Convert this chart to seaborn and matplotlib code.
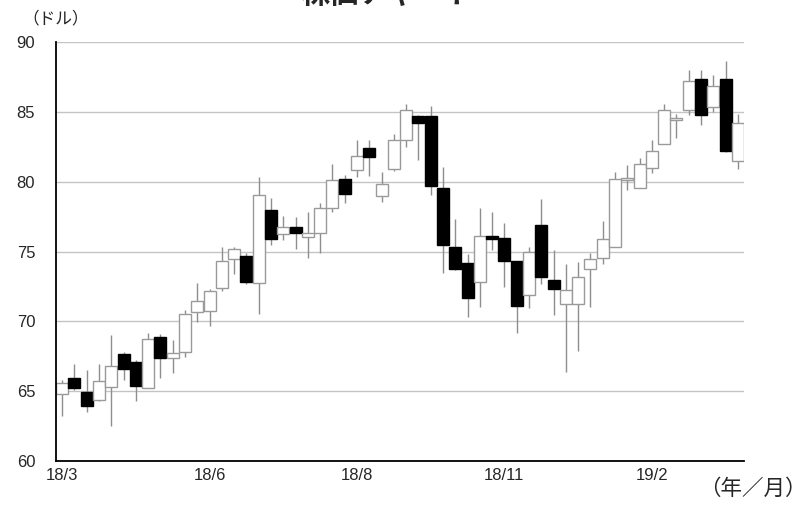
import numpy as np
import pandas as pd
import matplotlib
matplotlib.use("Agg")
import matplotlib.pyplot as plt
import seaborn as sns

# ---- data (weekly OHLC, dollars) ----
open_ = [64.77, 65.91, 64.96, 64.36, 65.27, 67.65, 67.10, 65.24, 68.85, 67.34,
         67.82, 70.68, 70.75, 72.42, 74.45, 74.67, 72.71, 77.96, 76.22, 76.72,
         76.05, 76.29, 78.15, 80.17, 80.87, 82.42, 78.96, 80.94, 83.01, 84.68,
         84.68, 79.58, 75.33, 74.21, 72.83, 76.10, 75.95, 74.31, 71.92, 76.88,
         72.95, 71.21, 71.21, 73.76, 74.57, 75.33, 80.10, 79.58, 81.01, 82.73,
         84.40, 85.16, 87.33, 85.35, 87.33, 81.49]
high = [65.79, 66.94, 66.51, 66.94, 69.01, 67.82, 67.22, 69.20, 69.06, 68.65,
        70.80, 72.71, 72.35, 75.29, 75.30, 74.90, 80.34, 78.84, 77.53, 77.48,
        77.84, 78.48, 81.25, 80.51, 83.01, 82.96, 80.70, 83.44, 85.54, 84.75,
        85.40, 81.06, 77.36, 74.81, 78.15, 77.81, 77.05, 74.35, 75.29, 78.79,
        75.09, 74.09, 74.26, 74.90, 77.19, 80.70, 81.18, 81.72, 82.96, 85.54,
        84.87, 87.97, 87.97, 87.62, 88.62, 84.82]
low = [63.22, 65.08, 63.53, 64.30, 62.53, 65.79, 64.29, 65.20, 65.91, 66.27,
       67.42, 69.97, 69.66, 72.18, 73.40, 72.66, 70.56, 75.45, 75.81, 75.21,
       74.50, 74.86, 77.84, 78.48, 80.34, 80.39, 78.55, 80.77, 82.49, 81.53,
       79.03, 73.47, 73.70, 70.32, 71.04, 75.09, 72.47, 69.13, 70.92, 72.66,
       70.44, 66.39, 67.89, 71.04, 74.14, 75.30, 79.39, 79.55, 80.63, 82.70,
       83.16, 84.75, 84.04, 84.99, 82.13, 80.89]
close = [65.55, 65.20, 63.93, 65.72, 66.82, 66.56, 65.36, 68.77, 67.34, 67.70,
         70.56, 71.47, 72.16, 74.31, 75.21, 72.83, 79.08, 75.88, 76.76, 76.33,
         76.29, 78.15, 80.10, 79.10, 81.82, 81.77, 79.86, 83.01, 85.11, 84.20,
         79.67, 75.45, 73.76, 71.68, 76.14, 75.93, 74.31, 71.09, 74.93, 73.14,
         72.33, 72.23, 73.14, 74.43, 75.86, 80.22, 80.26, 81.30, 82.18, 85.16,
         84.56, 87.19, 84.80, 86.83, 82.20, 84.23]
tick_index = [0, 12, 24, 36, 48]
tick_labels = ["18/3", "18/6", "18/8", "18/11", "19/2"]
y_ticks = [60, 65, 70, 75, 80, 85, 90]
title_text = "株価チャート"
y_unit = "（ドル）"
x_unit = "（年／月）"

sns.set_style("white")
plt.rcParams['font.family'] = ['Liberation Sans', 'Noto Sans CJK JP', 'DejaVu Sans']

df = pd.DataFrame({"week": np.arange(len(open_)), "open": open_, "high": high,
                   "low": low, "close": close})
df["lo"] = df[["open", "close"]].min(axis=1)
df["body"] = (df["close"] - df["open"]).abs()
df["up"] = df["close"] >= df["open"]

W, H = 811, 509
fig = plt.figure(figsize=(W / 100, H / 100), dpi=100)
ax = fig.add_axes([56 / W, 48 / H, 688 / W, 419 / H])

# wicks
ax.vlines(df["week"], df["low"], df["high"], color="#8e8e8e", lw=1.0, zorder=2)

# bodies
sns.barplot(data=df, x="week", y="body", bottom=df["lo"].values, width=0.97,
            color="white", errorbar=None, ax=ax, zorder=3, linewidth=1.0,
            edgecolor="#9a9a9a")
for patch, up in zip(ax.patches, df["up"]):
    if up:
        patch.set_facecolor("white")
        patch.set_edgecolor("#9a9a9a")
    else:
        patch.set_facecolor("black")
        patch.set_edgecolor("black")

ax.set_xlim(-0.5, len(open_) - 0.5)
ax.set_ylim(60, 90)
ax.set_yticks(y_ticks)
ax.set_xticks(tick_index)
ax.set_xticklabels(tick_labels)
ax.set_xticks([i - 0.5 for i in tick_index[1:]], minor=True)
ax.tick_params(axis="x", which="major", length=0, pad=5, labelsize=12)
ax.tick_params(axis="x", which="minor", length=5, direction="in", color="#b0b0b0", width=1)
ax.tick_params(axis="y", length=0, pad=15, labelsize=12)
ax.set_xlabel("")
ax.set_ylabel("")

ax.yaxis.grid(True, color="#c4c4c4", lw=1.0)
ax.xaxis.grid(False)
ax.set_axisbelow(True)
for s in ["top", "right"]:
    ax.spines[s].set_visible(False)
for s in ["left", "bottom"]:
    ax.spines[s].set_visible(True)
    ax.spines[s].set_color("black")
    ax.spines[s].set_linewidth(1.3)
    ax.spines[s].set_zorder(5)

fig.text(388 / W, 1 + 6 / H, title_text, ha="center", va="center",
         fontsize=21, fontweight="bold", family=['Noto Sans CJK JP'])
fig.text(56 / W, 1 - 19 / H, y_unit, ha="center", va="center", fontsize=12,
         family=['Noto Sans CJK JP'])
fig.text(807 / W, 1 - 489 / H, x_unit, ha="right", va="center", fontsize=15.5,
         family=['Noto Sans CJK JP'])

fig.savefig("out.png", dpi=100)
